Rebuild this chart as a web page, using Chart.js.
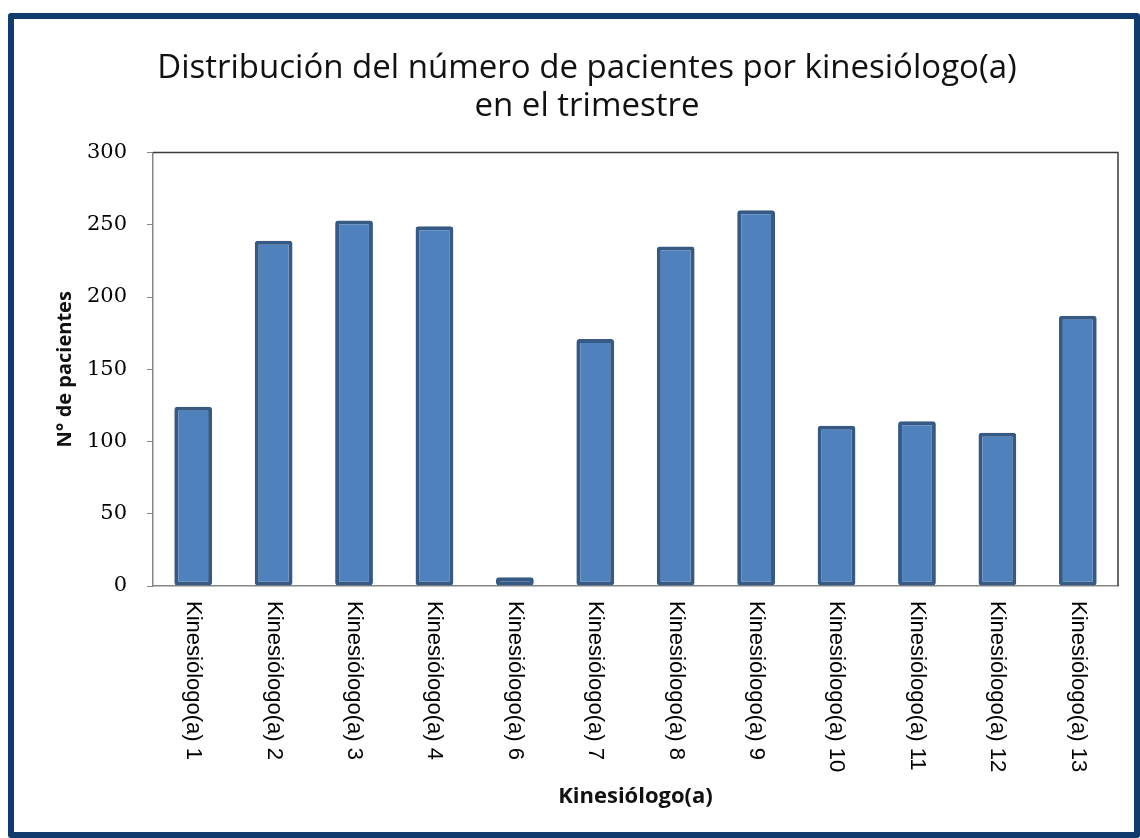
<!DOCTYPE html>
<html>
<head>
<meta charset="utf-8">
<script src="https://cdn.jsdelivr.net/npm/chart.js@4"></script>
<style>
  body { margin: 0; background: #fff; }
  #frame {
    position: absolute; left: 8px; top: 13px;
    width: 1120px; height: 813px;
    border: 6px solid #123b6d; border-radius: 3px;
    background: #fff;
  }
</style>
</head>
<body>
<div id="frame"><canvas id="chart" width="1120" height="813"></canvas></div>
<script>
const categories = [
  'Kinesiólogo(a) 1', 'Kinesiólogo(a) 2', 'Kinesiólogo(a) 3', 'Kinesiólogo(a) 4',
  'Kinesiólogo(a) 6', 'Kinesiólogo(a) 7', 'Kinesiólogo(a) 8', 'Kinesiólogo(a) 9',
  'Kinesiólogo(a) 10', 'Kinesiólogo(a) 11', 'Kinesiólogo(a) 12', 'Kinesiólogo(a) 13'
];
const pacientes = [124, 239, 253, 249, 6, 171, 235, 260, 111, 114, 106, 187];
const titleLines = ['Distribución del número de pacientes por kinesiólogo(a)', 'en el trimestre'];
const yTitle = 'N° de pacientes';
const xTitle = 'Kinesiólogo(a)';

// marco superior/derecho y etiquetas verticales (de arriba hacia abajo)
const frameAndLabels = {
  id: 'frameAndLabels',
  afterDraw(chart) {
    const { ctx, chartArea: a, scales: { x } } = chart;
    ctx.save();
    ctx.strokeStyle = '#3a3a3a';
    ctx.lineWidth = 1.5;
    ctx.beginPath();
    ctx.moveTo(a.left, a.top);
    ctx.lineTo(a.right, a.top);
    ctx.lineTo(a.right, a.bottom);
    ctx.stroke();

    ctx.font = '22px "Liberation Sans"';
    ctx.fillStyle = '#000';
    ctx.textAlign = 'left';
    ctx.textBaseline = 'middle';
    categories.forEach((label, i) => {
      ctx.save();
      ctx.translate(x.getPixelForTick(i), x.top + 15);
      ctx.rotate(Math.PI / 2);
      ctx.fillText(label, 0, 0);
      ctx.restore();
    });
    ctx.restore();
  }
};

const ctx = document.getElementById('chart').getContext('2d');
const chart = new Chart(ctx, {
  type: 'bar',
  data: {
    labels: categories,
    datasets: [{
      label: 'Pacientes',
      data: pacientes,
      backgroundColor: '#4f81bd',
      borderColor: '#375a85',
      borderWidth: 4,
      borderRadius: 3,
      borderSkipped: false,
      categoryPercentage: 1,
      barPercentage: 0.47,
    }],
  },
  options: {
    responsive: false,
    animation: false,
    layout: { padding: { left: 26, right: 0, top: 0, bottom: 0 } },
    plugins: {
      legend: { display: false },
      tooltip: { enabled: false },
      title: {
        display: true,
        text: titleLines,
        color: '#111',
        font: { family: 'Open Sans', size: 33, weight: 'normal', lineHeight: 1.16 },
        padding: { top: 30, bottom: 27 },
      },
    },
    scales: {
      x: {
        grid: { display: false },
        border: { color: '#868686', width: 1.5 },
        ticks: { display: false },
        title: {
          display: true,
          text: xTitle,
          color: '#111',
          font: { family: 'Open Sans', size: 22, weight: 'bold' },
          padding: { top: 0, bottom: 22 },
        },
        afterFit(scale) { scale.height = 246; },
      },
      y: {
        min: 0,
        max: 300,
        grid: { drawOnChartArea: false, color: '#868686', tickLength: 6 },
        border: { color: '#868686', width: 1.5 },
        ticks: {
          stepSize: 50,
          padding: 20,
          color: '#000',
          font: { family: 'DejaVu Serif', size: 21 },
        },
        title: {
          display: true,
          text: yTitle,
          color: '#111',
          font: { family: 'Open Sans', size: 20, weight: 'bold' },
          padding: { top: 13, bottom: 0 },
        },
        afterFit(scale) { scale.width = 113; },
      },
      // margen derecho vacío
      yRight: {
        position: 'right',
        grid: { display: false },
        border: { display: false },
        ticks: { display: false },
        afterFit(scale) { scale.width = 16; },
      },
    },
  },
  plugins: [frameAndLabels],
});
</script>
</body>
</html>
